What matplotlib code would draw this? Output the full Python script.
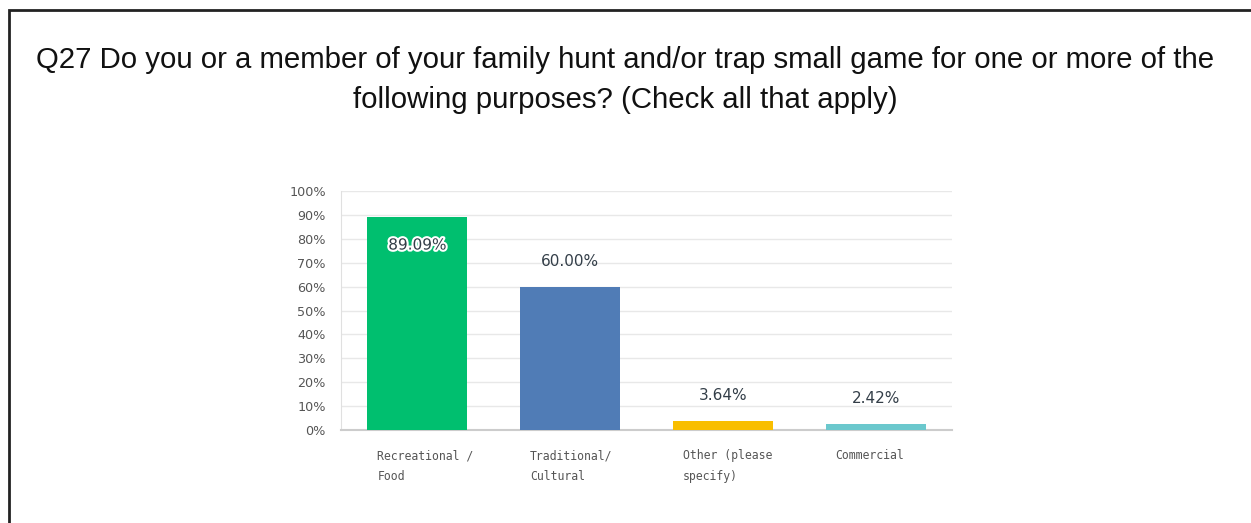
import matplotlib.pyplot as plt
import matplotlib.patheffects as pe
from matplotlib.patches import Rectangle

# Survey answers for Q27
categories = ["Recreational /\nFood", "Traditional/\nCultural", "Other (please\nspecify)", "Commercial"]
percents = [89.09, 60.00, 3.64, 2.42]
colors = ["#00BF6F", "#507CB6", "#F9BE00", "#6BC8CD"]
yticks = list(range(0, 101, 10))

fig = plt.figure(figsize=(12.51, 5.23), dpi=100)

# outer frame (runs off the right and bottom edges)
fig.patches.append(Rectangle((8.5 / 1251, -0.1), 1.2, 1 - 10.5 / 523 + 0.1,
                             transform=fig.transFigure, fill=False,
                             edgecolor="#222222", linewidth=2))

fig.text(0.5, 1 - 60 / 523, "Q27 Do you or a member of your family hunt and/or trap small game for one or more of the",
         ha="center", va="center", fontsize=21.2, family="Liberation Sans", color="#111111")
fig.text(0.5, 1 - 100 / 523, "following purposes? (Check all that apply)",
         ha="center", va="center", fontsize=21.2, family="Liberation Sans", color="#111111")

ax = fig.add_axes([341 / 1251, 1 - 430 / 523, (952 - 341) / 1251, (430 - 191) / 523])
x = range(len(categories))
ax.bar(x, percents, width=0.655, color=colors, zorder=3)
ax.set_xlim(-0.5, len(categories) - 0.5)
ax.set_ylim(0, 100)
ax.set_yticks(yticks)
ax.set_yticklabels([f"{t}%" for t in yticks], fontsize=9.2, color="#555555", family="DejaVu Sans")
ax.tick_params(axis="y", length=0, pad=11)
ax.tick_params(axis="x", length=0)
ax.set_xticks([])
ax.grid(axis="y", color="#e8e8e8", linewidth=1, zorder=0)
for s in ["top", "right"]:
    ax.spines[s].set_visible(False)
ax.spines["left"].set_color("#e0e0e0")
ax.spines["bottom"].set_color("#cccccc")
ax.spines["bottom"].set_linewidth(1.5)

for i, (p, lab) in enumerate(zip(percents, categories)):
    if p > 80:
        t = ax.text(i, p - 11.7, f"{p:.2f}%", ha="center", va="center", fontsize=11,
                    fontweight="medium", color="#333e48", zorder=4)
        t.set_path_effects([pe.withStroke(linewidth=3, foreground="white")])
    else:
        ax.text(i, p + 7.5, f"{p:.2f}%", ha="center", va="bottom", fontsize=11,
                fontweight="medium", color="#333e48", zorder=4)
    ax.text(i - 0.655 / 2 + 0.065, -8, lab, ha="left", va="top", fontsize=8.3,
            family="DejaVu Sans Mono", color="#555555", linespacing=1.75)

plt.savefig("out.png", dpi=100)
